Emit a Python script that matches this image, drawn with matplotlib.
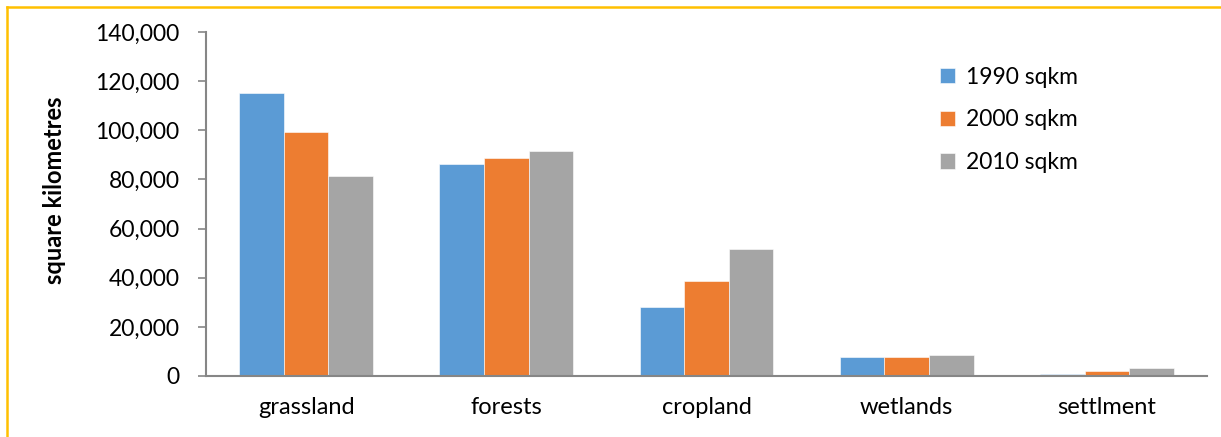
import numpy as np
import matplotlib.pyplot as plt
from matplotlib.lines import Line2D
from matplotlib.ticker import FuncFormatter

categories = ["grassland", "forests", "cropland", "wetlands", "settlment"]
series_names = ["1990 sqkm", "2000 sqkm", "2010 sqkm"]
area_1990 = [115200, 86200, 28200, 7600, 1000]
area_2000 = [99200, 88700, 38700, 7700, 1900]
area_2010 = [81400, 91700, 51800, 8700, 3300]
colors = ["#5B9BD5", "#ED7D31", "#A5A5A5"]

plt.rcParams["font.family"] = ["Lato", "DejaVu Sans"]

fig = plt.figure(figsize=(12.21, 4.37), dpi=100)
ax = fig.add_axes([206 / 1221, 61 / 437, 1001 / 1221, 344 / 437])

x = np.arange(len(categories))
w = 0.2225
for i, (vals, name) in enumerate(zip([area_1990, area_2000, area_2010], series_names)):
    ax.bar(x + (i - 1) * w, vals, width=w, color=colors[i], edgecolor="white",
           linewidth=0.4, label=name, zorder=2)

ax.set_xlim(-0.5, len(categories) - 0.5)
ax.set_ylim(0, 140000)
ax.set_yticks(np.arange(0, 140001, 20000))
ax.yaxis.set_major_formatter(FuncFormatter(lambda v, p: f"{int(v):,}"))
ax.set_xticks(x)
ax.set_xticklabels(categories)

axis_gray = "#868686"
for s in ["top", "right"]:
    ax.spines[s].set_visible(False)
for s in ["left", "bottom"]:
    ax.spines[s].set_color(axis_gray)
    ax.spines[s].set_linewidth(1.5)
ax.tick_params(axis="y", length=6, width=1.2, color=axis_gray, pad=13, labelsize=16.5)
ax.tick_params(axis="x", length=0, pad=15, labelsize=17)

ax.set_ylabel("square kilometres", fontsize=17, fontweight="bold")
ax.yaxis.set_label_coords(-0.140, 0.54)

ax.legend(loc="upper left", bbox_to_anchor=(919 / 1221, 1 - 46 / 437),
          bbox_transform=fig.transFigure, frameon=False, fontsize=16.5,
          handlelength=0.65, handleheight=0.65, handletextpad=0.5, labelspacing=0.95)

# yellow frame along the top and left edges
fig.add_artist(Line2D([7 / 1221, 1], [1 - 7 / 437, 1 - 7 / 437], transform=fig.transFigure,
                      color="#FFC000", linewidth=1.8))
fig.add_artist(Line2D([7 / 1221, 7 / 1221], [0, 1 - 7 / 437], transform=fig.transFigure,
                      color="#FFC000", linewidth=1.8))

fig.savefig("out.png", dpi=100)
